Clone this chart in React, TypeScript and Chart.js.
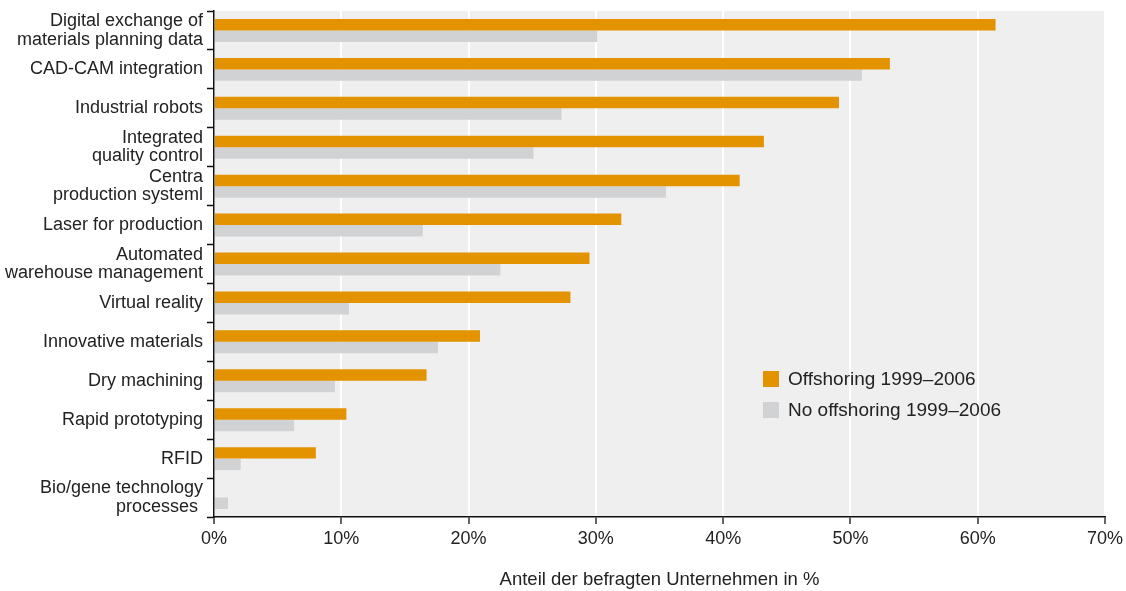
import React, { useEffect, useRef } from 'react';
import { Chart, registerables } from 'chart.js';

Chart.register(...registerables);

const categories: (string | string[])[] = [
  ['Digital exchange of', 'materials planning data'],
  'CAD-CAM integration',
  'Industrial robots',
  ['Integrated', 'quality control'],
  ['Centra', 'production systeml'],
  'Laser for production',
  ['Automated', 'warehouse management'],
  'Virtual reality',
  'Innovative materials',
  'Dry machining',
  'Rapid prototyping',
  'RFID',
  ['Bio/gene technology', 'processes '],
];

const offshoring = [61.4, 53.1, 49.1, 43.2, 41.3, 32.0, 29.5, 28.0, 20.9, 16.7, 10.4, 8.0, 0];
const noOffshoring = [30.1, 50.9, 27.3, 25.1, 35.5, 16.4, 22.5, 10.6, 17.6, 9.5, 6.3, 2.1, 1.1];

const seriesLabels = ['Offshoring 1999–2006', 'No offshoring 1999–2006'];
const xMin = 0;
const xMax = 70;
const xStep = 10;
const axisTitle = 'Anteil der befragten Unternehmen in %';

const ORANGE = '#E39200';
const GREY = '#D1D2D4';
const BG = '#EFEFEF';
const TEXT = '#222222';
const FONT = '"Liberation Sans", Arial, sans-serif';

const bgPlugin = {
  id: 'plotBg',
  beforeDraw(chart: any) {
    const { ctx, chartArea } = chart;
    ctx.save();
    ctx.fillStyle = BG;
    ctx.fillRect(chartArea.left, chartArea.top, chartArea.right - chartArea.left + 1, chartArea.bottom - chartArea.top);
    ctx.restore();
  },
};

const legendPlugin = {
  id: 'insideLegend',
  afterDraw(chart: any) {
    const { ctx } = chart;
    const x0 = 763;
    const y0 = 371;
    ctx.save();
    chart.data.datasets.forEach((ds: any, i: number) => {
      const y = y0 + i * 31;
      ctx.fillStyle = ds.backgroundColor;
      ctx.fillRect(x0, y, 16, 16);
      ctx.fillStyle = TEXT;
      ctx.font = `19px ${FONT}`;
      ctx.textBaseline = 'middle';
      ctx.textAlign = 'left';
      ctx.fillText(ds.label, x0 + 25, y + 8.5);
    });
    ctx.restore();
  },
};

export default function App() {
  const ref = useRef<HTMLCanvasElement>(null);

  useEffect(() => {
    document.body.style.margin = '0';
    const chart = new Chart(ref.current as HTMLCanvasElement, {
      type: 'bar',
      data: {
        labels: categories as any,
        datasets: [
          { label: seriesLabels[0], data: offshoring, backgroundColor: ORANGE, borderWidth: 0 },
          { label: seriesLabels[1], data: noOffshoring, backgroundColor: GREY, borderWidth: 0 },
        ],
      },
      plugins: [bgPlugin, legendPlugin],
      options: {
        indexAxis: 'y',
        responsive: false,
        animation: false,
        events: [],
        layout: { padding: { top: 11, right: 21, left: 0, bottom: 0 } },
        datasets: { bar: { categoryPercentage: 0.59, barPercentage: 1 } },
        plugins: {
          legend: { display: false },
          tooltip: { enabled: false },
          title: { display: false },
        },
        scales: {
          x: {
            type: 'linear',
            min: xMin,
            max: xMax,
            ticks: {
              stepSize: xStep,
              color: TEXT,
              font: { family: FONT, size: 18 },
              padding: 4,
              callback: (v: any) => `${v}%`,
            },
            grid: {
              color: '#FFFFFF',
              lineWidth: 2,
              tickColor: '#333333',
              tickLength: 7,
              tickWidth: 1.5,
              drawOnChartArea: true,
            },
            border: { display: true, color: '#111111', width: 1.5 },
            title: {
              display: true,
              text: axisTitle,
              color: TEXT,
              font: { family: FONT, size: 18.5, lineHeight: 1.2 },
              padding: { top: 0, bottom: 0 },
            },
            afterFit: (scale: any) => {
              scale.height = 74;
              scale.paddingLeft = 0;
              scale.paddingRight = 0;
            },
          },
          y: {
            type: 'category',
            ticks: {
              color: TEXT,
              font: { family: FONT, size: 18, lineHeight: 1.03 },
              padding: 4,
              autoSkip: false,
            },
            grid: {
              offset: true,
              drawOnChartArea: false,
              drawTicks: true,
              tickLength: 7,
              tickColor: '#111111',
              tickWidth: 1.5,
            },
            border: { display: true, color: '#111111', width: 1.5 },
            afterFit: (scale: any) => {
              scale.width = 214;
              scale.paddingTop = 0;
              scale.paddingBottom = 0;
            },
          },
        },
      } as any,
    });
    return () => chart.destroy();
  }, []);

  return (
    <div style={{ width: 1126, height: 591 }}>
      <canvas ref={ref} width={1126} height={591} />
    </div>
  );
}
